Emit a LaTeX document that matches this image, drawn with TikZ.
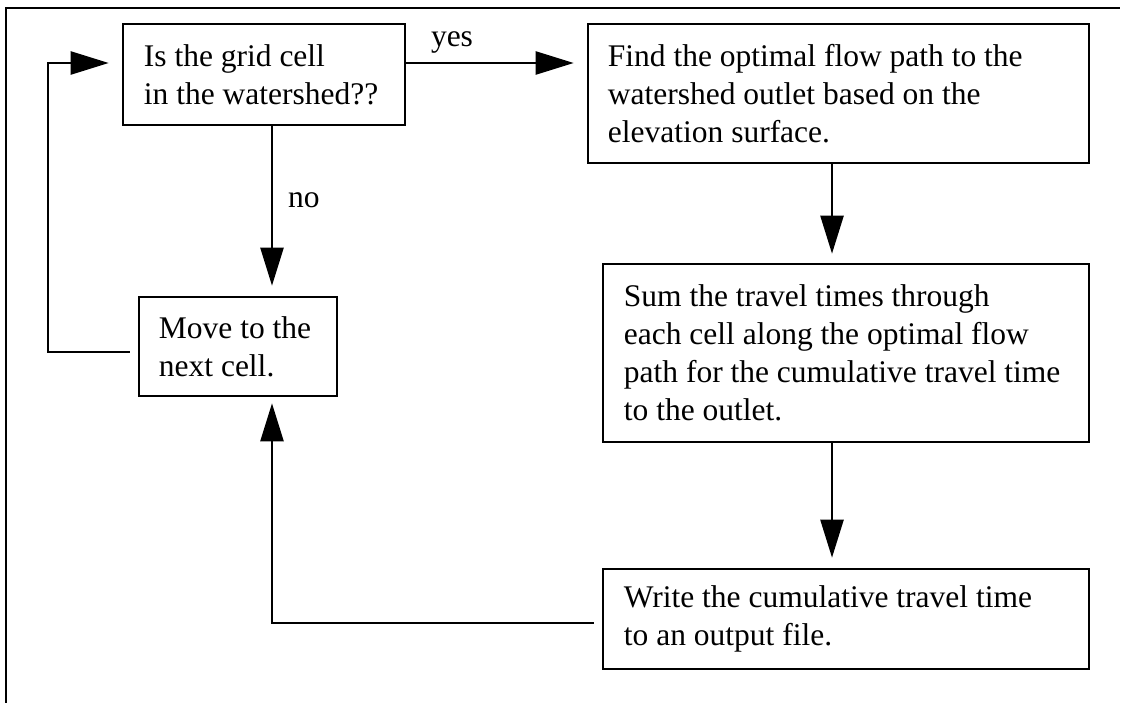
\documentclass[tikz,border=0pt]{standalone}
\usepackage{fontspec}
\setmainfont{Liberation Serif}
\usetikzlibrary{arrows.meta,calc}
\begin{document}
\begin{tikzpicture}[x=1pt,y=-1pt,
  boxn/.style={draw, line width=2.6pt, inner sep=0pt, rectangle},
  txt/.style={anchor=west, align=left, inner sep=0pt, font=\fontsize{31.5}{38}\selectfont},
  lbl/.style={inner sep=0pt, font=\fontsize{31.5}{38}\selectfont},
  arr/.style={line width=2.4pt, -{Triangle[length=38pt,width=23pt]}},
  frm/.style={line width=2.6pt}]
\useasboundingbox (0,0) rectangle (1129,703);
% outer frame
\draw[frm] (6,706) -- (6,8) -- (1120,8);
% boxes
\node[boxn, minimum width=282pt, minimum height=101pt] (b1) at (264,74.5) {};
\node[txt] (t1) at ([xshift=22pt]b1.west) {Is the grid cell\\in the watershed??};
\node[boxn, minimum width=501pt, minimum height=139pt] (b2) at (838.5,93.5) {};
\node[txt] (t2) at ([xshift=21pt]b2.west) {Find the optimal flow path to the\\watershed outlet based on the\\elevation surface.};
\node[boxn, minimum width=198pt, minimum height=99pt] (b5) at (238,346.5) {};
\node[txt] (t5) at ([xshift=21pt]b5.west) {Move to the\\next cell.};
\node[boxn, minimum width=486pt, minimum height=178pt] (b3) at (846,353) {};
\node[txt] (t3) at ([xshift=22pt]b3.west) {Sum the travel times through\\each cell along the optimal flow\\path for the cumulative travel time\\to the outlet.};
\node[boxn, minimum width=486pt, minimum height=100pt] (b4) at (846,619) {};
\node[txt] (t4) at ([xshift=22pt]b4.west) {Write the cumulative travel time\\to an output file.};
% labels
\node[lbl, anchor=base] (yes) at (452,47) {yes};
\node[lbl, anchor=base west] (no) at (288,208) {no};
% connectors
\draw[arr, shorten >=13pt] (b1.east |- 0,63) -- (b2.west |- 0,63);
\draw[arr, shorten >=10pt] (b1.south -| 272,0) -- (b5.north -| 272,0);
\draw[arr, shorten <=8pt, shorten >=13pt] (b5.west |- 0,352) -- (48,352) -- (48,63) -- (b1.west |- 0,63);
\draw[arr, shorten >=9pt] (b2.south -| 832,0) -- (b3.north -| 832,0);
\draw[arr, shorten >=10pt] (b3.south -| 832,0) -- (b4.north -| 832,0);
\draw[arr, shorten <=8pt, shorten >=6pt] (b4.west |- 0,623) -- (272,623) -- (b5.south -| 272,0);
\end{tikzpicture}
\end{document}
